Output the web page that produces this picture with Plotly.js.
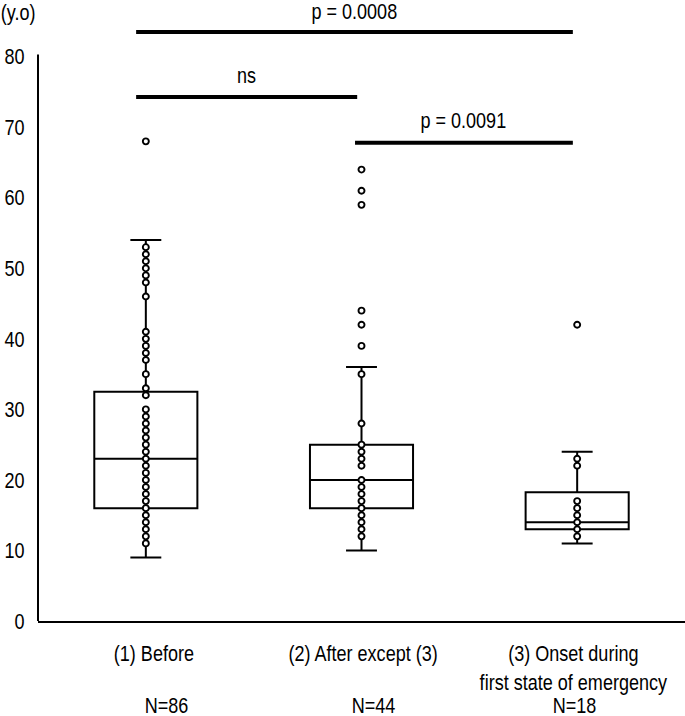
<!DOCTYPE html>
<html>
<head>
<meta charset="utf-8">
<script src="https://cdn.plot.ly/plotly-3.0.1.min.js"></script>
<style>html,body{margin:0;padding:0;background:#fff;}#chart{width:685px;height:716px;}</style>
</head>
<body>
<div id="chart"></div>
<script>
// ---- data ----
const categories = ['(1) Before', '(2) After except (3)', '(3) Onset during<br>first state of emergency'];
const nLabels = ['N=86', 'N=44', 'N=18'];
const q1 = [16, 16, 13];
const medians = [23, 20, 14];
const q3 = [32.5, 25, 18.25];
const lowerWhisker = [9, 10, 11];
const upperWhisker = [54, 36, 24];

const points1 = [68, 53, 52, 51, 50, 49, 48, 46, 41, 40, 39, 38, 37, 35, 33, 32, 30, 29, 28, 27, 26, 25, 24, 23, 22, 21, 20, 19, 18, 17, 16, 15, 14, 13, 12, 11];
const points2 = [64, 61, 59, 44, 42, 39, 35, 28, 25, 24, 23, 22, 20, 19, 18, 17, 16, 15, 14, 13, 12];
const points3 = [42, 23, 22, 17, 16, 15, 14, 13, 12];

const yTicks = [0, 10, 20, 30, 40, 50, 60, 70, 80];
const yUnit = '(y.o)';

// significance comparisons: [fromCategory, toCategory, label]
const compFrom = [0, 0, 1];
const compTo = [2, 1, 2];
const compLabels = ['p = 0.0008', 'ns', 'p = 0.0091'];
// ---------------------------------------

const FONT = 'Liberation Sans Narrow, Arial Narrow, Liberation Sans, Arial, sans-serif';
const fs = 22;
const NARROW = 0.82; // horizontal condensing to mimic a narrow face

const boxTrace = {
  type: 'box',
  x: categories,
  q1: q1, median: medians, q3: q3,
  lowerfence: lowerWhisker, upperfence: upperWhisker,
  width: 0.478,
  whiskerwidth: 0.3,
  boxpoints: false,
  fillcolor: 'rgba(255,255,255,0)',
  line: {color: '#000', width: 2},
  hoverinfo: 'skip',
  showlegend: false
};

const pointSets = [points1, points2, points3];
const pointTraces = pointSets.map((pts, i) => ({
  type: 'scatter', mode: 'markers',
  x: pts.map(() => categories[i]),
  y: pts,
  marker: {symbol: 'circle', size: 6, color: '#fff', line: {color: '#000', width: 1.9}},
  cliponaxis: false,
  hoverinfo: 'skip',
  showlegend: false
}));

// levels (y, data units) for the comparison bars and labels
const barY = [83.5, 74.3, 67.8];
const labelY = [86.35, 77.3, 70.9];
const barStartShift = -0.045;
const barEndShift = -0.02;

const shapes = [
  // y axis line (only up to 80)
  {type: 'line', xref: 'paper', yref: 'y', x0: 0, x1: 0, y0: 0, y1: 80.3, line: {color: '#000', width: 2}}
];
const annotations = [];
compLabels.forEach((lab, i) => {
  const a = compFrom[i], b = compTo[i];
  const x0 = a + (a === 0 ? barStartShift : barEndShift - 0.01);
  const x1 = b + barEndShift;
  shapes.push({type: 'line', xref: 'x', yref: 'y', x0: x0, x1: x1, y0: barY[i], y1: barY[i],
    line: {color: '#000', width: 4}});
  annotations.push({xref: 'x', yref: 'y', x: (x0 + x1) / 2, y: labelY[i], text: lab, showarrow: false,
    xanchor: 'center', yanchor: 'middle', font: {family: FONT, size: fs, color: '#000'}});
});

const labelShift = [8, 1, -4];
const nShift = [21, 12, -3];
categories.forEach((c, i) => {
  annotations.push({xref: 'x', yref: 'paper', x: i, y: 0, text: c, showarrow: false,
    xanchor: 'center', yanchor: 'top', yshift: -18, xshift: labelShift[i],
    font: {family: FONT, size: fs, color: '#000'}});
  annotations.push({xref: 'x', yref: 'paper', x: i, y: 0, text: nLabels[i], showarrow: false,
    xanchor: 'center', yanchor: 'middle', yshift: -84, xshift: nShift[i],
    font: {family: FONT, size: fs, color: '#000'}});
});
annotations.push({xref: 'paper', yref: 'y', x: 0, y: 86.2, text: yUnit, showarrow: false,
  xanchor: 'center', yanchor: 'middle', xshift: -20, font: {family: FONT, size: fs, color: '#000'}});

const layout = {
  width: 685, height: 716,
  margin: {l: 38, r: 0, t: 1, b: 95, pad: 0},
  paper_bgcolor: '#fff', plot_bgcolor: '#fff',
  font: {family: FONT, size: fs, color: '#000'},
  showlegend: false,
  xaxis: {
    type: 'category', categoryorder: 'array', categoryarray: categories,
    range: [-0.5, 2.5], showticklabels: false, ticks: '',
    showline: true, linecolor: '#000', linewidth: 2, showgrid: false, zeroline: false, fixedrange: true
  },
  yaxis: {
    range: [0, 87.9], tickvals: yTicks, ticktext: yTicks.map(String),
    ticks: 'outside', ticklen: 8, tickcolor: 'rgba(0,0,0,0)',
    showline: false, showgrid: false, zeroline: false, fixedrange: true,
    tickfont: {family: FONT, size: fs, color: '#000'}
  },
  shapes: shapes,
  annotations: annotations
};

Plotly.newPlot('chart', [boxTrace].concat(pointTraces), layout, {displayModeBar: false, staticPlot: true})
  .then(gd => {
    // condense every text horizontally about its own anchor point
    gd.querySelectorAll('svg text').forEach(t => {
      const x = parseFloat(t.getAttribute('x') || '0');
      const prev = t.getAttribute('transform') || '';
      t.setAttribute('transform', prev + ' translate(' + x + ',0) scale(' + NARROW + ',1) translate(' + (-x) + ',0)');
    });
  });
</script>
</body>
</html>
